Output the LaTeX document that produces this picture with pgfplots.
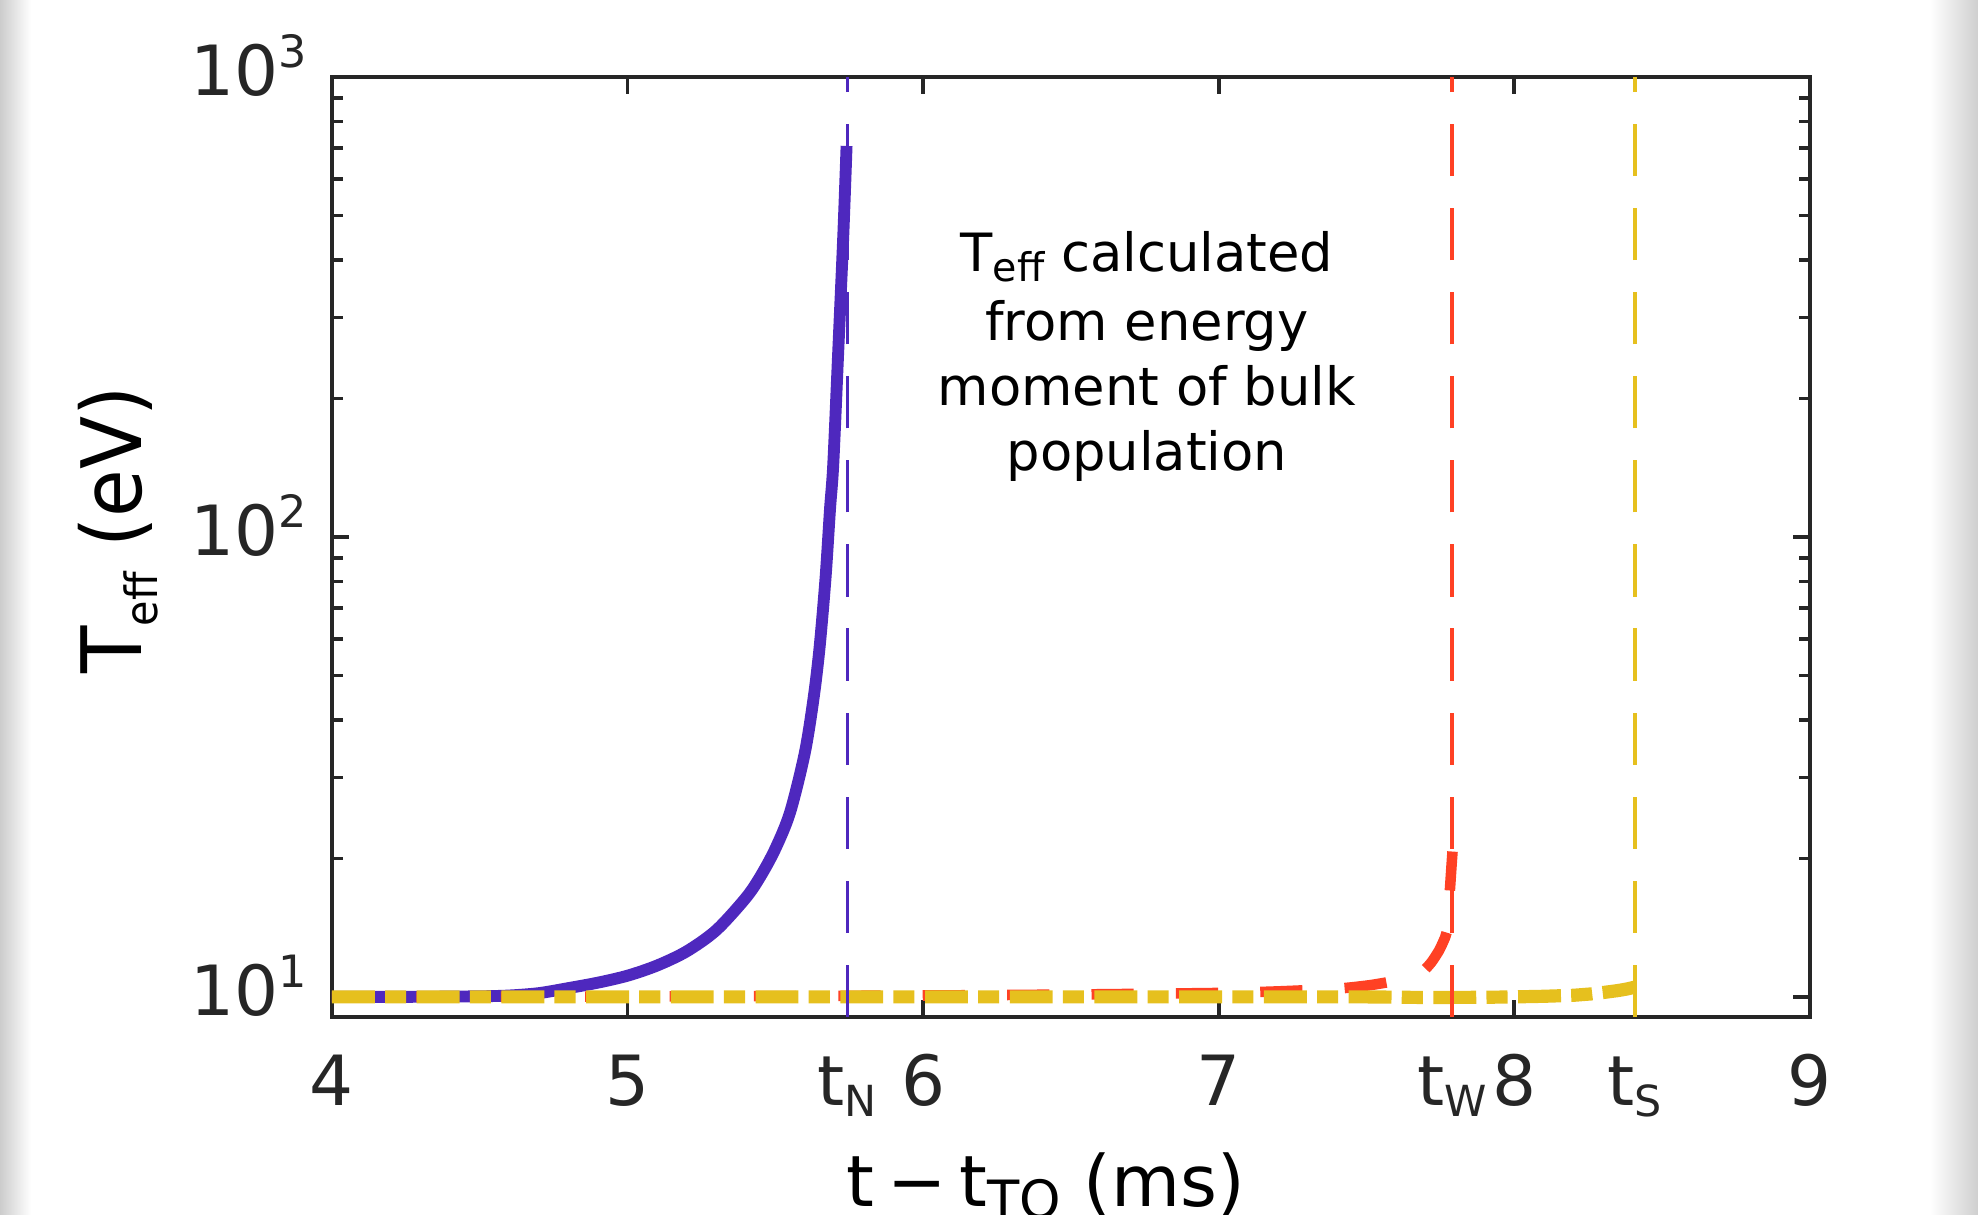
\documentclass[border=0pt]{standalone}
\usepackage{fontspec}
\setmainfont{DejaVu Sans}
\newfontfamily\labfont{DejaVu Sans}[FakeStretch=0.93]
\usepackage{pgfplots}
\pgfplotsset{compat=1.18}
\usetikzlibrary{calc}
\definecolor{cpurple}{RGB}{78,40,190}
\definecolor{cred}{RGB}{255,65,36}
\definecolor{cyellow}{RGB}{230,192,30}
\definecolor{caxis}{RGB}{38,38,38}
\newcommand\tsup[1]{\kern0.2pt\raisebox{8.3pt}{\fontsize{13.5}{14}\selectfont #1}}
\newcommand\tsub[1]{\raisebox{-3.2pt}{\fontsize{13}{13}\selectfont #1}}
\begin{document}
\begin{tikzpicture}
\begin{axis}[
  at={(0pt,0pt)}, anchor=south west,
  scale only axis, width=448.3pt, height=285.1pt,
  xmin=4, xmax=9, ymin=9.05, ymax=1000, ymode=log,
  axis line style={draw=caxis, line width=1.3pt},
  every tick/.style={caxis, line width=1.1pt},
  every minor tick/.style={caxis, line width=1.1pt},
  major tick length=5.2pt, minor tick length=3.2pt,
  tick align=inside,
  xtick={4,5,6,7,8,9}, xticklabels={4,5,6,7,8,9},
  ytick={10,100,1000}, yticklabels={10\tsup{1},10\tsup{2},10\tsup{3}},
  xticklabel style={font=\fontsize{21}{25}\selectfont, text=caxis, anchor=base, inner sep=0pt, yshift=-27pt},
  yticklabel style={font=\fontsize{21}{25}\selectfont, text=caxis, anchor=base east, inner sep=0pt, xshift=-7.3pt, yshift=-5.5pt},
  extra x ticks={5.743,7.789,8.408},
  extra x tick labels={t\tsub{N},t\tsub{W},t\tsub{S}},
  extra x tick style={major tick length=0pt},
  xlabel={t\kern4pt−\kern4pt t\raisebox{-3.5pt}{\fontsize{16}{16}\selectfont TO} (ms)},
  xlabel style={at={(axis description cs:0.483,-0.2020)}, anchor=base, inner sep=0pt, font=\fontsize{21.5}{26}\selectfont, text=black},
  ylabel={T\raisebox{-4.9pt}{\fontsize{13.5}{14}\selectfont eff} (eV)},
  ylabel style={at={(axis description cs:-0.1287,0.518)}, anchor=base, inner sep=0pt, font=\labfont\fontsize{25.3}{30}\selectfont, text=black},
  clip=true,
]
% purple solid
\addplot[cpurple, line width=3.6pt, line join=round, smooth, tension=0.5] table {
4.00 10.00
4.30 10.005
4.50 10.03
4.60 10.07
4.70 10.19
4.80 10.45
4.90 10.74
5.00 11.12
5.10 11.70
5.20 12.56
5.30 13.96
5.40 16.41
5.45 18.3
5.50 20.99
5.55 25.2
5.60 34.0
5.63 44.9
5.65 57.8
5.67 81.7
5.685 115
5.696 144
5.713 255
5.730 454
5.741 708
};
% red dashed
\addplot[cred, line width=3.2pt, dash pattern=on 12.8pt off 12.8pt, smooth, tension=0.4] table {
4.00 10.00
4.50 10.00
5.00 10.02
5.50 10.04
6.00 10.07
6.50 10.12
7.00 10.20
7.20 10.28
7.40 10.42
7.50 10.58
7.55 10.70
7.60 10.85
7.65 11.05
7.69 11.35
7.72 11.90
7.745 12.6
7.76 13.2
7.771 13.8
7.778 15.5
7.782 17.0
7.787 19.0
7.791 20.7
};
% yellow dash-dot
\addplot[cyellow, line width=4.0pt, dash pattern=on 13pt off 3.1pt on 6.4pt off 3.2pt] table {
4.00 10.00
5.00 10.00
6.00 10.00
7.00 10.00
7.50 10.00
7.70 9.97
7.90 9.98
8.00 10.00
8.10 10.03
8.20 10.08
8.26 10.15
8.30 10.22
8.35 10.32
8.38 10.40
8.408 10.50
};
% vertical markers
\addplot[cpurple, line width=1pt, dash pattern=on 15.8pt off 9.7pt] coordinates {(5.743,9.05) (5.743,1000)};
\addplot[cred, line width=1pt, dash pattern=on 15.8pt off 9.7pt] coordinates {(7.789,9.05) (7.789,1000)};
\addplot[cyellow, line width=1pt, dash pattern=on 15.8pt off 9.7pt] coordinates {(8.408,9.05) (8.408,1000)};
% annotation
\node[anchor=base, inner sep=0pt, font=\fontsize{16}{19}\selectfont] at (rel axis cs:0.5514,0.7929) {T\raisebox{-3pt}{\fontsize{12}{12}\selectfont eff} calculated};
\node[anchor=base, inner sep=0pt, font=\fontsize{16}{19}\selectfont] at (rel axis cs:0.5514,0.7200) {from energy};
\node[anchor=base, inner sep=0pt, font=\fontsize{16}{19}\selectfont] at (rel axis cs:0.5514,0.6506) {moment of bulk};
\node[anchor=base, inner sep=0pt, font=\fontsize{16}{19}\selectfont] at (rel axis cs:0.5514,0.5810) {population};
\end{axis}
\shade[left color=gray!40, right color=white] (-100.7pt,-60.05pt) rectangle (-91.3pt,308.45pt);
\shade[left color=white, right color=gray!38] (484.7pt,-60.05pt) rectangle (499.3pt,308.45pt);
\pgfresetboundingbox
\path[use as bounding box] (-100.7pt,-60.05pt) rectangle (499.3pt,308.45pt);
\end{tikzpicture}
\end{document}
